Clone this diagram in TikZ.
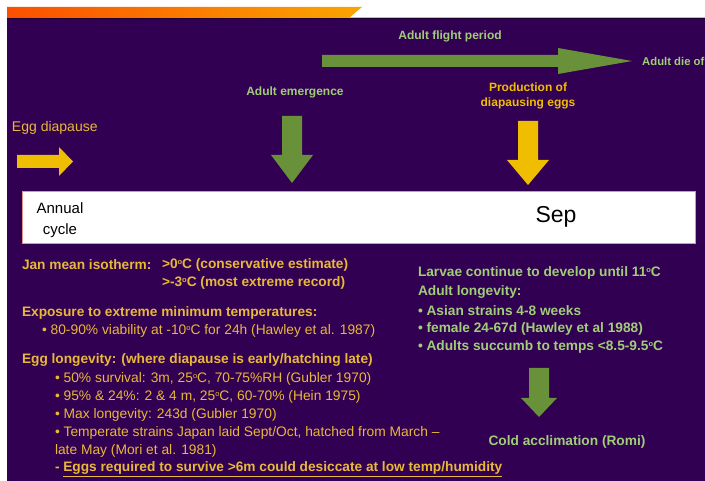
\documentclass[tikz,border=0pt]{standalone}
\usepackage{fontspec}
\setmainfont{Liberation Sans}
\definecolor{bgpurple}{RGB}{50,0,82}
\definecolor{arrgreen}{RGB}{104,145,58}
\definecolor{arryellow}{RGB}{240,190,0}
\definecolor{txtgreen}{RGB}{160,205,120}
\definecolor{txtgold}{RGB}{232,185,55}
\definecolor{barleft}{RGB}{250,80,0}
\definecolor{barright}{RGB}{250,165,0}
\definecolor{boxedge}{RGB}{230,150,130}
\newcommand{\dg}{\raisebox{0.5ex}{\fontsize{7.5}{7.5}\selectfont o}}
\begin{document}
\begin{tikzpicture}[x=1pt,y=-1pt,
  lbl/.style={inner sep=0pt,outer sep=0pt,anchor=west},
  hgold/.style={lbl,text=txtgold,font=\fontsize{13.7}{15}\selectfont\bfseries},
  rgold/.style={lbl,text=txtgold,font=\fontsize{13.8}{15}\selectfont},
  hgreen/.style={inner sep=0pt,text=txtgreen,font=\fontsize{12}{14}\selectfont\bfseries},
  rgreen/.style={lbl,text=txtgreen,font=\fontsize{13.7}{15}\selectfont\bfseries},
  garrow/.style={fill=arrgreen},
  yarrow/.style={fill=arryellow}]
\useasboundingbox (0,0) rectangle (705,481);
\fill[white] (0,0) rectangle (705,481);
% background
\fill[bgpurple] (7,19) rectangle (705,481);
% top bar
\shade[left color=barleft,right color=barright] (7,7) -- (362,7) -- (349,18) -- (7,18) -- cycle;
\draw[line width=0.8pt,color=black!40!bgpurple] (7,18.6) -- (705,18.6);
\draw[line width=0.7pt,color={rgb,255:red,205;green,175;blue,215}] (349,17.5) -- (705,17.5);

% top texts
\node[hgreen] (flight) at (450,36) {Adult flight period};
\fill[garrow] (322,55) -- (558,55) -- (558,48) -- (632,61) -- (558,74) -- (558,67) -- (322,67) -- cycle;
\node[hgreen,anchor=west,font=\fontsize{11.3}{14}\selectfont\bfseries] (dieoff) at (642,61) {Adult die of};

\node[hgreen] (emerg) at (295,92) {Adult emergence};
\fill[garrow] (282,116) -- (302,116) -- (302,155) -- (313,155) -- (292,183) -- (271,155) -- (282,155) -- cycle;

\node[hgreen,text=arryellow,align=center] (prod) at (528,96) {Production of\\[1pt]diapausing eggs};
\fill[yarrow] (518,121) -- (538,121) -- (538,160) -- (549,160) -- (528,185) -- (507,160) -- (518,160) -- cycle;

\node[lbl,text=txtgold,font=\fontsize{14}{15}\selectfont] (eggdia) at (12,128) {Egg diapause};
\fill[yarrow] (17,155) -- (59,155) -- (59,147) -- (73,161.5) -- (59,176) -- (59,168) -- (17,168) -- cycle;

% annual cycle box
\draw[fill=white,draw=boxedge,line width=0.9pt] (22,191) rectangle (695,243);
\node[inner sep=0pt,align=center,font=\fontsize{15}{21}\selectfont] (annual) at (60,220) {Annual\\cycle};
\node[inner sep=0pt,font=\fontsize{23}{26}\selectfont] (sep) at (556,217) {Sep};

% left column
\node[hgold] (jan) at (22,265) {Jan mean isotherm:};
\node[hgold] (jan1) at (162,265) {>0\dg C (conservative estimate)};
\node[hgold] (jan2) at (162,283) {>-3\dg C (most extreme record)};
\node[hgold] (expo) at (22,313) {Exposure to extreme minimum temperatures:};
\node[rgold] (expo1) at (42,331) {• 80-90\% viability at -10\dg C for 24h (Hawley et al. 1987)};
\node[hgold] (egglong) at (22,360) {Egg longevity: (where diapause is early/hatching late)};
\node[rgold] (el1) at (55,379) {• 50\% survival: 3m, 25\dg C, 70-75\%RH (Gubler 1970)};
\node[rgold] (el2) at (55,397) {• 95\% \& 24\%: 2 \& 4 m, 25\dg C, 60-70\% (Hein 1975)};
\node[rgold] (el3) at (55,415) {• Max longevity: 243d (Gubler 1970)};
\node[rgold] (el4) at (55,433) {• Temperate strains Japan laid Sept/Oct, hatched from March –};
\node[rgold] (el5) at (55,451) {late May (Mori et al. 1981)};
\node[hgold] (el6) at (55,469) {- \underline{Eggs required to survive >6m could desiccate at low temp/humidity}};

% right column
\node[rgreen] (larv) at (418,273) {Larvae continue to develop until 11\dg C};
\node[rgreen] (adl) at (418,292) {Adult longevity:};
\node[rgreen] (adl1) at (418,311) {• Asian strains 4-8 weeks};
\node[rgreen] (adl2) at (418,329) {• female 24-67d (Hawley et al 1988)};
\node[rgreen] (adl3) at (418,347) {• Adults succumb to temps <8.5-9.5\dg C};
\fill[garrow] (529,368) -- (549,368) -- (549,398) -- (557,398) -- (539,417) -- (521,398) -- (529,398) -- cycle;
\node[rgreen,anchor=center] (cold) at (567,442) {Cold acclimation (Romi)};
\end{tikzpicture}
\end{document}
